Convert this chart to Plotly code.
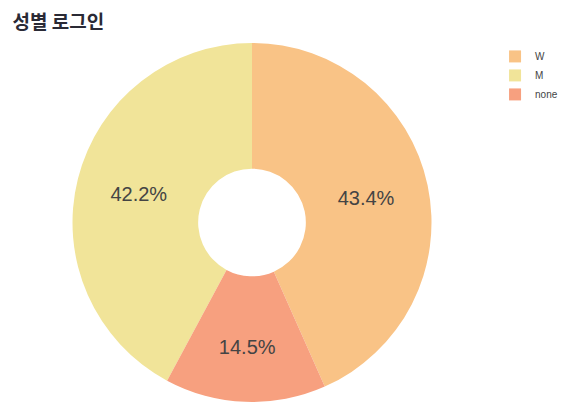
import plotly.graph_objects as go

labels = ["W", "M", "none"]
values = [434, 422, 145]
colors = ["#F9C386", "#F1E499", "#F7A07F"]

fig = go.Figure(go.Pie(
    labels=labels, values=values, hole=0.3,
    marker=dict(colors=colors),
    direction="counterclockwise",
    rotation=0,
    sort=False,
    textinfo="percent",
    textfont=dict(size=20, color="#444"),
))
fig.update_layout(
    width=567, height=408,
    title=dict(text="<b>성별 로그인</b>", x=0.008, y=0.966, xanchor="left", yanchor="middle",
               font=dict(family="Noto Sans CJK KR", size=19, color="#2a2a35")),
    font=dict(family="Liberation Sans, Arial", color="#444"),
    margin=dict(t=35, b=14, l=20, r=99),
    legend=dict(xref="container", x=0.859, y=1.003, xanchor="left", yanchor="top",
                font=dict(size=10)),
    paper_bgcolor="white",
)
fig.write_html("out.html")
